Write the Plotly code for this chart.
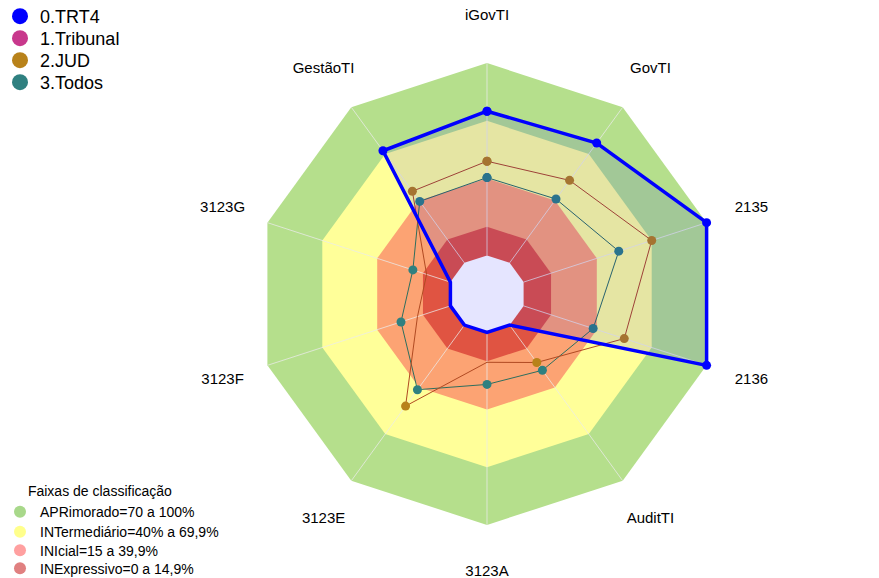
import plotly.graph_objects as go

categories = ["iGovTI", "GovTI", "2135", "2136", "AuditTI", "3123A", "3123E", "3123F", "3123G", "GestãoTI"]

trt4 = [75, 77, 100, 100, 0, 0, 0, 0, 0, 72]
tribunal = [75, 77, 100, 100, 0, 0, 0, 0, 0, 72]
jud = [49, 53, 70, 55, 24, 15.5, 52, 18, 13, 46]
todos = [40.5, 41, 52, 38, 29, 27, 41.5, 27, 20.5, 39.5]

series_names = ["0.TRT4", "1.Tribunal", "2.JUD", "3.Todos"]
series_colors = ["#0000ff", "#c8388c", "#b8821a", "#2f8080"]

band_names = ["APRimorado=70 a 100%", "INTermediário=40% a 69,9%", "INIcial=15 a 39,9%", "INExpressivo=0 a 14,9%"]
band_upper = [100, 70, 40, 15]
band_colors = ["rgb(181,223,140)", "rgb(255,255,153)", "rgb(252,163,115)", "rgb(224,84,66)"]
band_legend_colors = ["#a8d88a", "#ffff8c", "#ffa0a0", "#e08080"]
center_value = 0
radial_range = [-20, 125]
label_radius = 124.5

W, H = 879, 578
T_M, B_M = 15, 5

def py(Y):
    # pixel row -> paper fraction
    return (H - B_M - Y) / (H - T_M - B_M)

fig = go.Figure()

# background bands (stacked filled polygons)
for up, col in zip(band_upper, band_colors):
    fig.add_trace(go.Scatterpolar(
        r=[up] * len(categories), theta=categories, mode="lines",
        fill="toself", fillcolor=col, line=dict(width=0, color=col),
        showlegend=False, hoverinfo="skip"))
fig.add_trace(go.Scatterpolar(
    r=[center_value] * len(categories), theta=categories, mode="lines",
    fill="toself", fillcolor="white", line=dict(width=0, color="white"),
    showlegend=False, hoverinfo="skip"))

# spokes
sr, st = [], []
for c in categories:
    sr += [center_value, band_upper[0], None]
    st += [c, c, None]
fig.add_trace(go.Scatterpolar(
    r=sr, theta=st, mode="lines",
    line=dict(width=1, color="rgba(235,235,235,0.75)"),
    showlegend=False, hoverinfo="skip"))

closed = categories + [categories[0]]

def close(v):
    return list(v) + [v[0]]

# data series
fig.add_trace(go.Scatterpolar(
    r=close(todos), theta=closed, mode="lines+markers",
    line=dict(width=1, color="#2d6e5e"),
    marker=dict(size=9, color=series_colors[3]),
    showlegend=False, name=series_names[3]))
fig.add_trace(go.Scatterpolar(
    r=close(jud), theta=closed, mode="lines+markers",
    line=dict(width=1, color="#b04a22"),
    marker=dict(size=9, color=series_colors[2]),
    showlegend=False, name=series_names[2]))
fig.add_trace(go.Scatterpolar(
    r=close(tribunal), theta=closed, mode="lines+markers",
    line=dict(width=1, color=series_colors[1]),
    marker=dict(size=6, color=series_colors[1]),
    showlegend=False, name=series_names[1]))
fig.add_trace(go.Scatterpolar(
    r=close(trt4), theta=closed, mode="lines+markers",
    fill="toself", fillcolor="rgba(0,0,255,0.10)",
    line=dict(width=3.5, color=series_colors[0]),
    marker=dict(size=9, color=series_colors[0]),
    showlegend=False, name=series_names[0]))

# category labels centred on a circle outside the chart
fig.add_trace(go.Scatterpolar(
    r=[label_radius] * len(categories), theta=categories, mode="text",
    text=categories, textposition="middle center",
    textfont=dict(size=15, color="black"), cliponaxis=False,
    showlegend=False, hoverinfo="skip"))

legend_layouts = {}

# series legend entries (one small legend per entry for exact spacing)
series_rows = [16, 38, 60, 82]
for i, (n, c) in enumerate(zip(series_names, series_colors)):
    lid = "legend" if i == 0 else f"legend{i + 1}"
    fig.add_trace(go.Scatterpolar(
        r=[None], theta=[None], mode="markers", name=n,
        marker=dict(size=16, color=c), legend=lid))
    legend_layouts[lid] = dict(
        x=0, y=py(series_rows[i] - 18), xanchor="left", yanchor="top",
        font=dict(size=18, color="black"), bgcolor="rgba(0,0,0,0)",
        itemsizing="trace")

# band legend entries
band_rows = [513, 531.5, 550, 568]
for j, (n, c) in enumerate(zip(band_names, band_legend_colors)):
    lid = f"legend{j + 5}"
    fig.add_trace(go.Scatterpolar(
        r=[None], theta=[None], mode="markers", name=n,
        marker=dict(size=12, color=c), legend=lid))
    top = band_rows[j] - (35 if j == 0 else 15.4)
    d = dict(
        x=0, y=py(top), xanchor="left", yanchor="top",
        font=dict(size=14, color="black"), bgcolor="rgba(0,0,0,0)",
        itemsizing="trace")
    if j == 0:
        d["title"] = dict(text="Faixas de classificação", side="top center",
                          font=dict(size=14, color="black"))
    legend_layouts[lid] = d

R_px = (H - T_M - B_M) / 2
cx = 487
fig.update_layout(
    width=W, height=H,
    margin=dict(l=0, r=0, t=T_M, b=B_M, autoexpand=False),
    paper_bgcolor="white",
    font=dict(family="Liberation Sans, Arial, sans-serif", color="black"),
    polar=dict(
        domain=dict(x=[(cx - R_px - 1) / W, (cx + R_px + 1) / W], y=[0, 1]),
        bgcolor="white",
        gridshape="linear",
        angularaxis=dict(
            type="category", categoryarray=categories,
            rotation=90, direction="clockwise",
            showgrid=False, showline=False, ticks="",
            showticklabels=False),
        radialaxis=dict(
            range=radial_range, showgrid=False, showline=False,
            showticklabels=False, ticks=""),
    ),
    **legend_layouts,
)

fig.write_html("out.html", config={"displayModeBar": False},
               post_script="document.body.style.margin='0px';")
